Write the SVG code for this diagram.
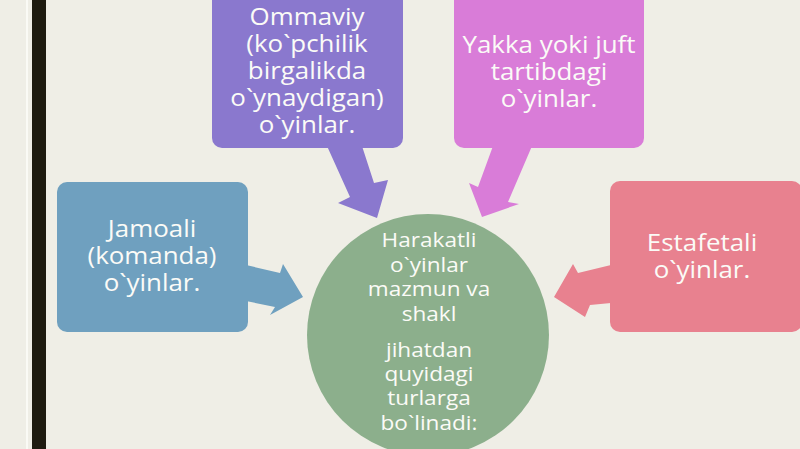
<svg xmlns="http://www.w3.org/2000/svg" width="800" height="449" viewBox="0 0 800 449">
<style>
.t{font-family:"Open Sans","Noto Sans","DejaVu Sans",sans-serif;fill:#FBFBF7;text-anchor:middle}
.b{font-size:24px}
.c{font-size:20px}
</style>
<rect x="0" y="0" width="800" height="449" fill="#EFEEE6"/>
<rect x="26" y="0" width="2" height="449" fill="#FAFAF5"/>
<rect x="32" y="0" width="14" height="449" fill="#1E1B10"/>
<g id="connectors">
<polygon points="327,146 362,146 374,183 388,180 377,218 338,203 350,197" fill="#8A78CE"/>
<polygon points="493,146 532,146 508,202 519,204 482,217 469,183 478,187" fill="#D97CD8"/>
<polygon points="246,265 280,273 283,264 303,297 270,315 275,307 246,301" fill="#6FA0BF"/>
<polygon points="611,265 578,273 573,264 554,297 585,317 590,305 611,303" fill="#E8818F"/>
</g>
<g id="center">
<circle cx="428" cy="335" r="121" fill="#8CAF8C"/>
<text class="t c" transform="translate(429 0) scale(1.13 1)"><tspan x="0" y="247">Harakatli</tspan><tspan x="0" y="272">o`yinlar</tspan><tspan x="0" y="296">mazmun va</tspan><tspan x="0" y="321">shakl</tspan><tspan x="0" y="357">jihatdan</tspan><tspan x="0" y="381">quyidagi</tspan><tspan x="0" y="405">turlarga</tspan><tspan x="0" y="430">bo`linadi:</tspan></text>
</g>
<g id="ommaviy">
<rect x="212" y="-12" width="191" height="160" rx="10" fill="#8A78CE"/>
<text class="t b" transform="translate(307 0) scale(1.08 1)"><tspan x="0" y="25">Ommaviy</tspan><tspan x="0" y="52">(ko`pchilik</tspan><tspan x="0" y="79">birgalikda</tspan><tspan x="0" y="106">o`ynaydigan)</tspan><tspan x="0" y="133">o`yinlar.</tspan></text>
</g>
<g id="yakka">
<rect x="454" y="-12" width="190" height="160" rx="10" fill="#D97CD8"/>
<text class="t b" transform="translate(549 0) scale(1.08 1)"><tspan x="0" y="53">Yakka yoki juft</tspan><tspan x="0" y="80">tartibdagi</tspan><tspan x="0" y="107">o`yinlar.</tspan></text>
</g>
<g id="jamoali">
<rect x="57" y="182" width="191" height="150" rx="10" fill="#6FA0BF"/>
<text class="t b" transform="translate(152 0) scale(1.08 1)"><tspan x="0" y="237">Jamoali</tspan><tspan x="0" y="264">(komanda)</tspan><tspan x="0" y="291">o`yinlar.</tspan></text>
</g>
<g id="estafetali">
<rect x="610" y="181" width="192" height="151" rx="10" fill="#E8818F"/>
<text class="t b" transform="translate(702 0) scale(1.08 1)"><tspan x="0" y="251">Estafetali</tspan><tspan x="0" y="278">o`yinlar.</tspan></text>
</g>
</svg>
